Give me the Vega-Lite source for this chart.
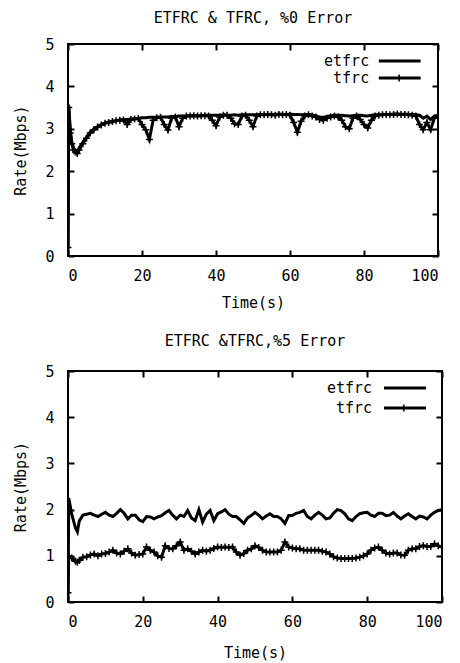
{
  "$schema": "https://vega.github.io/schema/vega-lite/v6.json",
  "background": "white",
  "padding": {"left": 12, "top": 10, "right": 0, "bottom": 0},
  "config": {
    "font": "DejaVu Sans Mono",
    "view": {"stroke": "black", "strokeWidth": 2},
    "concat": {"spacing": 22},
    "title": {"font": "DejaVu Sans Mono", "fontSize": 15, "fontWeight": "normal", "color": "black"},
    "axis": {
      "domain": false, "grid": false,
      "tickColor": "black", "tickWidth": 2, "tickSize": -6,
      "labelFont": "DejaVu Sans Mono", "labelFontSize": 15, "labelColor": "black",
      "titleFont": "DejaVu Sans Mono", "titleFontSize": 15, "titleFontWeight": "normal", "titleColor": "black"
    },
    "axisX": {"labelPadding": 18, "titlePadding": 12},
    "axisY": {"labelPadding": 20, "titlePadding": 16}
  },
  "datasets": {
    "top": [
      {"t":0,"etfrc":0,"tfrc":0.2},{"t":0.2,"etfrc":3.55,"tfrc":3.5},{"t":0.6,"etfrc":3.0,"tfrc":2.9},{"t":1,"etfrc":2.7,"tfrc":2.65},{"t":1.5,"etfrc":2.55,"tfrc":2.5},{"t":2,"etfrc":2.47,"tfrc":2.45},{"t":2.5,"etfrc":2.45,"tfrc":2.42},
      {"t":3,"etfrc":2.55,"tfrc":2.5},{"t":4,"etfrc":2.68,"tfrc":2.65},{"t":5,"etfrc":2.8,"tfrc":2.78},{"t":6,"etfrc":2.92,"tfrc":2.9},{"t":7,"etfrc":3.0,"tfrc":2.98},{"t":8,"etfrc":3.05,"tfrc":3.04},{"t":9,"etfrc":3.1,"tfrc":3.09},{"t":10,"etfrc":3.14,"tfrc":3.13},
      {"t":11,"etfrc":3.16,"tfrc":3.15},{"t":12,"etfrc":3.18,"tfrc":3.17},{"t":13,"etfrc":3.19,"tfrc":3.19},{"t":14,"etfrc":3.21,"tfrc":3.2},{"t":15,"etfrc":3.22,"tfrc":3.21},{"t":16,"etfrc":3.22,"tfrc":3.1},{"t":17,"etfrc":3.23,"tfrc":3.22},{"t":18,"etfrc":3.24,"tfrc":3.23},{"t":19,"etfrc":3.25,"tfrc":3.24},{"t":20,"etfrc":3.26,"tfrc":3.1},
      {"t":21,"etfrc":3.26,"tfrc":2.98},{"t":22,"etfrc":3.27,"tfrc":2.75},{"t":23,"etfrc":3.27,"tfrc":3.2},{"t":24,"etfrc":3.27,"tfrc":3.26},{"t":25,"etfrc":3.28,"tfrc":3.27},{"t":26,"etfrc":3.28,"tfrc":3.1},{"t":27,"etfrc":3.28,"tfrc":2.97},{"t":28,"etfrc":3.29,"tfrc":3.25},{"t":29,"etfrc":3.29,"tfrc":3.28},{"t":30,"etfrc":3.3,"tfrc":3.05},
      {"t":31,"etfrc":3.3,"tfrc":3.25},{"t":32,"etfrc":3.3,"tfrc":3.3},{"t":33,"etfrc":3.31,"tfrc":3.3},{"t":34,"etfrc":3.31,"tfrc":3.31},{"t":35,"etfrc":3.31,"tfrc":3.3},{"t":36,"etfrc":3.31,"tfrc":3.31},{"t":37,"etfrc":3.32,"tfrc":3.31},{"t":38,"etfrc":3.32,"tfrc":3.3},{"t":39,"etfrc":3.32,"tfrc":3.2},{"t":40,"etfrc":3.32,"tfrc":3.07},
      {"t":41,"etfrc":3.32,"tfrc":3.28},{"t":42,"etfrc":3.33,"tfrc":3.32},{"t":43,"etfrc":3.32,"tfrc":3.32},{"t":44,"etfrc":3.32,"tfrc":3.25},{"t":45,"etfrc":3.33,"tfrc":3.12},{"t":46,"etfrc":3.32,"tfrc":3.1},{"t":47,"etfrc":3.33,"tfrc":3.3},{"t":48,"etfrc":3.33,"tfrc":3.32},{"t":49,"etfrc":3.33,"tfrc":3.2},{"t":50,"etfrc":3.33,"tfrc":3.05},
      {"t":51,"etfrc":3.33,"tfrc":3.3},{"t":52,"etfrc":3.34,"tfrc":3.33},{"t":53,"etfrc":3.34,"tfrc":3.33},{"t":54,"etfrc":3.33,"tfrc":3.34},{"t":55,"etfrc":3.34,"tfrc":3.33},{"t":56,"etfrc":3.34,"tfrc":3.32},{"t":57,"etfrc":3.35,"tfrc":3.34},{"t":58,"etfrc":3.34,"tfrc":3.33},{"t":59,"etfrc":3.34,"tfrc":3.34},{"t":60,"etfrc":3.35,"tfrc":3.32},
      {"t":61,"etfrc":3.34,"tfrc":3.15},{"t":62,"etfrc":3.34,"tfrc":2.92},{"t":63,"etfrc":3.33,"tfrc":3.18},{"t":64,"etfrc":3.34,"tfrc":3.3},{"t":65,"etfrc":3.34,"tfrc":3.33},{"t":66,"etfrc":3.33,"tfrc":3.3},{"t":67,"etfrc":3.3,"tfrc":3.28},{"t":68,"etfrc":3.28,"tfrc":3.22},{"t":69,"etfrc":3.27,"tfrc":3.2},{"t":70,"etfrc":3.29,"tfrc":3.25},
      {"t":71,"etfrc":3.31,"tfrc":3.28},{"t":72,"etfrc":3.32,"tfrc":3.3},{"t":73,"etfrc":3.32,"tfrc":3.28},{"t":74,"etfrc":3.32,"tfrc":3.2},{"t":75,"etfrc":3.31,"tfrc":3.05},{"t":76,"etfrc":3.3,"tfrc":3.0},{"t":77,"etfrc":3.31,"tfrc":3.25},{"t":78,"etfrc":3.32,"tfrc":3.3},{"t":79,"etfrc":3.32,"tfrc":3.22},{"t":80,"etfrc":3.31,"tfrc":3.1},
      {"t":81,"etfrc":3.3,"tfrc":3.02},{"t":82,"etfrc":3.32,"tfrc":3.2},{"t":83,"etfrc":3.33,"tfrc":3.3},{"t":84,"etfrc":3.33,"tfrc":3.32},{"t":85,"etfrc":3.34,"tfrc":3.33},{"t":86,"etfrc":3.34,"tfrc":3.34},{"t":87,"etfrc":3.34,"tfrc":3.33},{"t":88,"etfrc":3.35,"tfrc":3.34},{"t":89,"etfrc":3.35,"tfrc":3.35},{"t":90,"etfrc":3.34,"tfrc":3.34},
      {"t":91,"etfrc":3.35,"tfrc":3.34},{"t":92,"etfrc":3.34,"tfrc":3.33},{"t":93,"etfrc":3.34,"tfrc":3.32},{"t":94,"etfrc":3.33,"tfrc":3.3},{"t":95,"etfrc":3.32,"tfrc":3.1},{"t":96,"etfrc":3.25,"tfrc":2.98},{"t":97,"etfrc":3.3,"tfrc":3.15},{"t":98,"etfrc":3.22,"tfrc":2.98},{"t":99,"etfrc":3.3,"tfrc":3.25},{"t":100,"etfrc":3.32,"tfrc":3.3}
    ],
    "bottom": [
      {"t":0,"etfrc":0,"tfrc":0.2},{"t":0.2,"etfrc":2.25,"tfrc":1.0},{"t":1,"etfrc":1.9,"tfrc":0.95},{"t":2,"etfrc":1.6,"tfrc":0.88},{"t":2.5,"etfrc":1.52,"tfrc":0.86},
      {"t":3,"etfrc":1.75,"tfrc":0.9},{"t":4,"etfrc":1.88,"tfrc":0.97},{"t":5,"etfrc":1.9,"tfrc":0.98},{"t":6,"etfrc":1.92,"tfrc":1.02},{"t":7,"etfrc":1.88,"tfrc":1.04},{"t":8,"etfrc":1.85,"tfrc":1.0},{"t":9,"etfrc":1.9,"tfrc":1.04},{"t":10,"etfrc":1.94,"tfrc":1.05},
      {"t":11,"etfrc":1.88,"tfrc":1.08},{"t":12,"etfrc":1.85,"tfrc":1.12},{"t":13,"etfrc":1.92,"tfrc":1.06},{"t":14,"etfrc":2.0,"tfrc":1.04},{"t":15,"etfrc":1.92,"tfrc":1.1},{"t":16,"etfrc":1.8,"tfrc":1.15},{"t":17,"etfrc":1.88,"tfrc":1.06},{"t":18,"etfrc":1.88,"tfrc":1.01},{"t":19,"etfrc":1.78,"tfrc":1.03},{"t":20,"etfrc":1.74,"tfrc":1.04},
      {"t":21,"etfrc":1.85,"tfrc":1.19},{"t":22,"etfrc":1.84,"tfrc":1.12},{"t":23,"etfrc":1.8,"tfrc":1.08},{"t":24,"etfrc":1.84,"tfrc":1.0},{"t":25,"etfrc":1.87,"tfrc":0.97},{"t":26,"etfrc":1.93,"tfrc":1.22},{"t":27,"etfrc":1.98,"tfrc":1.16},{"t":28,"etfrc":1.88,"tfrc":1.15},{"t":29,"etfrc":1.8,"tfrc":1.22},{"t":30,"etfrc":1.88,"tfrc":1.3},
      {"t":31,"etfrc":1.85,"tfrc":1.12},{"t":32,"etfrc":1.98,"tfrc":1.15},{"t":33,"etfrc":1.82,"tfrc":1.1},{"t":34,"etfrc":1.76,"tfrc":1.04},{"t":35,"etfrc":2.0,"tfrc":1.08},{"t":36,"etfrc":1.73,"tfrc":1.12},{"t":37,"etfrc":1.9,"tfrc":1.1},{"t":38,"etfrc":1.98,"tfrc":1.12},{"t":39,"etfrc":1.76,"tfrc":1.16},{"t":40,"etfrc":1.91,"tfrc":1.19},
      {"t":41,"etfrc":1.95,"tfrc":1.18},{"t":42,"etfrc":2.0,"tfrc":1.19},{"t":43,"etfrc":1.9,"tfrc":1.18},{"t":44,"etfrc":1.85,"tfrc":1.19},{"t":45,"etfrc":1.85,"tfrc":1.08},{"t":46,"etfrc":1.78,"tfrc":1.01},{"t":47,"etfrc":1.7,"tfrc":1.05},{"t":48,"etfrc":1.82,"tfrc":1.12},{"t":49,"etfrc":1.87,"tfrc":1.15},{"t":50,"etfrc":1.94,"tfrc":1.22},
      {"t":51,"etfrc":1.88,"tfrc":1.18},{"t":52,"etfrc":1.8,"tfrc":1.12},{"t":53,"etfrc":1.86,"tfrc":1.08},{"t":54,"etfrc":1.91,"tfrc":1.08},{"t":55,"etfrc":1.85,"tfrc":1.08},{"t":56,"etfrc":1.85,"tfrc":1.08},{"t":57,"etfrc":1.8,"tfrc":1.12},{"t":58,"etfrc":1.7,"tfrc":1.3},{"t":59,"etfrc":1.87,"tfrc":1.19},{"t":60,"etfrc":1.87,"tfrc":1.17},
      {"t":61,"etfrc":1.92,"tfrc":1.15},{"t":62,"etfrc":1.94,"tfrc":1.15},{"t":63,"etfrc":1.98,"tfrc":1.12},{"t":64,"etfrc":1.85,"tfrc":1.12},{"t":65,"etfrc":1.8,"tfrc":1.12},{"t":66,"etfrc":1.88,"tfrc":1.12},{"t":67,"etfrc":1.94,"tfrc":1.12},{"t":68,"etfrc":1.88,"tfrc":1.1},{"t":69,"etfrc":1.8,"tfrc":1.08},{"t":70,"etfrc":1.82,"tfrc":1.04},
      {"t":71,"etfrc":1.92,"tfrc":0.98},{"t":72,"etfrc":2.0,"tfrc":0.95},{"t":73,"etfrc":1.98,"tfrc":0.94},{"t":74,"etfrc":1.91,"tfrc":0.94},{"t":75,"etfrc":1.8,"tfrc":0.94},{"t":76,"etfrc":1.76,"tfrc":0.94},{"t":77,"etfrc":1.85,"tfrc":0.95},{"t":78,"etfrc":1.91,"tfrc":0.97},{"t":79,"etfrc":1.93,"tfrc":1.0},{"t":80,"etfrc":1.94,"tfrc":1.04},
      {"t":81,"etfrc":1.88,"tfrc":1.12},{"t":82,"etfrc":1.85,"tfrc":1.17},{"t":83,"etfrc":1.92,"tfrc":1.19},{"t":84,"etfrc":1.92,"tfrc":1.12},{"t":85,"etfrc":1.87,"tfrc":1.06},{"t":86,"etfrc":1.88,"tfrc":1.04},{"t":87,"etfrc":1.94,"tfrc":1.06},{"t":88,"etfrc":1.86,"tfrc":1.06},{"t":89,"etfrc":1.8,"tfrc":1.02},{"t":90,"etfrc":1.86,"tfrc":1.01},
      {"t":91,"etfrc":1.91,"tfrc":1.12},{"t":92,"etfrc":1.85,"tfrc":1.15},{"t":93,"etfrc":1.8,"tfrc":1.15},{"t":94,"etfrc":1.86,"tfrc":1.2},{"t":95,"etfrc":1.84,"tfrc":1.22},{"t":96,"etfrc":1.8,"tfrc":1.2},{"t":97,"etfrc":1.88,"tfrc":1.2},{"t":98,"etfrc":1.94,"tfrc":1.26},{"t":99,"etfrc":1.98,"tfrc":1.22},{"t":100,"etfrc":2.0,"tfrc":1.19}
    ],
    "legTop": [
      {"label":"etfrc","v":4.6,"tx":81.4,"x1":84,"x2":95.3},
      {"label":"tfrc","v":4.2,"tx":81.4,"x1":84,"x2":95.3,"cx":89.5}
    ],
    "legBottom": [
      {"label":"etfrc","v":4.63,"tx":81.3,"x1":84.5,"x2":95.7},
      {"label":"tfrc","v":4.2,"tx":81.3,"x1":84.5,"x2":95.7,"cx":89.8}
    ]
  },
  "vconcat": [
    {
      "width": 370, "height": 212,
      "title": {"text": "ETFRC & TFRC, %0 Error", "offset": 11},
      "layer": [
        {
          "data": {"name": "top"},
          "transform": [{"fold": ["etfrc", "tfrc"], "as": ["series", "rate"]}],
          "mark": {"type": "line", "color": "black", "strokeWidth": 3, "clip": true},
          "encoding": {
            "x": {"field": "t", "type": "quantitative", "scale": {"domain": [0, 100], "nice": false}, "axis": {"title": "Time(s)", "values": [0, 20, 40, 60, 80, 100], "orient": "bottom"}},
            "y": {"field": "rate", "type": "quantitative", "scale": {"domain": [0, 5], "nice": false}, "axis": {"title": "Rate(Mbps)", "values": [0, 1, 2, 3, 4, 5], "orient": "left"}},
            "detail": {"field": "series"}
          }
        },
        {
          "data": {"name": "top"},
          "mark": {"type": "point", "shape": "M-1,0L1,0M0,-1L0,1", "size": 49, "filled": false, "color": "black", "strokeWidth": 1.5, "opacity": 1, "clip": true},
          "encoding": {
            "x": {"field": "t", "type": "quantitative", "axis": null},
            "y": {"field": "tfrc", "type": "quantitative", "axis": null}
          }
        },
        {
          "data": {"name": "legTop"},
          "mark": {"type": "text", "align": "right", "baseline": "middle", "fontSize": 15, "font": "DejaVu Sans Mono", "color": "black"},
          "encoding": {
            "x": {"field": "tx", "type": "quantitative", "axis": {"orient": "top", "labels": false, "title": null, "values": [0, 20, 40, 60, 80, 100]}},
            "y": {"field": "v", "type": "quantitative", "axis": {"orient": "right", "labels": false, "title": null, "values": [0, 1, 2, 3, 4, 5]}},
            "text": {"field": "label"}
          }
        },
        {
          "data": {"name": "legTop"},
          "mark": {"type": "rule", "color": "black", "strokeWidth": 3},
          "encoding": {
            "x": {"field": "x1", "type": "quantitative", "axis": null},
            "x2": {"field": "x2"},
            "y": {"field": "v", "type": "quantitative", "axis": null}
          }
        },
        {
          "data": {"name": "legTop"},
          "transform": [{"filter": {"field": "cx", "valid": true}}],
          "mark": {"type": "point", "shape": "M-1,0L1,0M0,-1L0,1", "size": 49, "filled": false, "color": "black", "strokeWidth": 1.5, "opacity": 1},
          "encoding": {
            "x": {"field": "cx", "type": "quantitative", "axis": null},
            "y": {"field": "v", "type": "quantitative", "axis": null}
          }
        }
      ],
      "resolve": {"axis": {"x": "independent", "y": "independent"}}
    },
    {
      "width": 374, "height": 231,
      "title": {"text": "ETFRC &TFRC,%5 Error", "offset": 15},
      "layer": [
        {
          "data": {"name": "bottom"},
          "transform": [{"fold": ["etfrc", "tfrc"], "as": ["series", "rate"]}],
          "mark": {"type": "line", "color": "black", "strokeWidth": 3, "clip": true},
          "encoding": {
            "x": {"field": "t", "type": "quantitative", "scale": {"domain": [0, 100], "nice": false}, "axis": {"title": "Time(s)", "titlePadding": 16, "values": [0, 20, 40, 60, 80, 100], "orient": "bottom"}},
            "y": {"field": "rate", "type": "quantitative", "scale": {"domain": [0, 5], "nice": false}, "axis": {"title": "Rate(Mbps)", "values": [0, 1, 2, 3, 4, 5], "orient": "left"}},
            "detail": {"field": "series"}
          }
        },
        {
          "data": {"name": "bottom"},
          "mark": {"type": "point", "shape": "M-1,0L1,0M0,-1L0,1", "size": 49, "filled": false, "color": "black", "strokeWidth": 1.5, "opacity": 1, "clip": true},
          "encoding": {
            "x": {"field": "t", "type": "quantitative", "axis": null},
            "y": {"field": "tfrc", "type": "quantitative", "axis": null}
          }
        },
        {
          "data": {"name": "legBottom"},
          "mark": {"type": "text", "align": "right", "baseline": "middle", "fontSize": 15, "font": "DejaVu Sans Mono", "color": "black"},
          "encoding": {
            "x": {"field": "tx", "type": "quantitative", "axis": {"orient": "top", "labels": false, "title": null, "values": [0, 20, 40, 60, 80, 100]}},
            "y": {"field": "v", "type": "quantitative", "axis": {"orient": "right", "labels": false, "title": null, "values": [0, 1, 2, 3, 4, 5]}},
            "text": {"field": "label"}
          }
        },
        {
          "data": {"name": "legBottom"},
          "mark": {"type": "rule", "color": "black", "strokeWidth": 3},
          "encoding": {
            "x": {"field": "x1", "type": "quantitative", "axis": null},
            "x2": {"field": "x2"},
            "y": {"field": "v", "type": "quantitative", "axis": null}
          }
        },
        {
          "data": {"name": "legBottom"},
          "transform": [{"filter": {"field": "cx", "valid": true}}],
          "mark": {"type": "point", "shape": "M-1,0L1,0M0,-1L0,1", "size": 49, "filled": false, "color": "black", "strokeWidth": 1.5, "opacity": 1},
          "encoding": {
            "x": {"field": "cx", "type": "quantitative", "axis": null},
            "y": {"field": "v", "type": "quantitative", "axis": null}
          }
        }
      ],
      "resolve": {"axis": {"x": "independent", "y": "independent"}}
    }
  ]
}
